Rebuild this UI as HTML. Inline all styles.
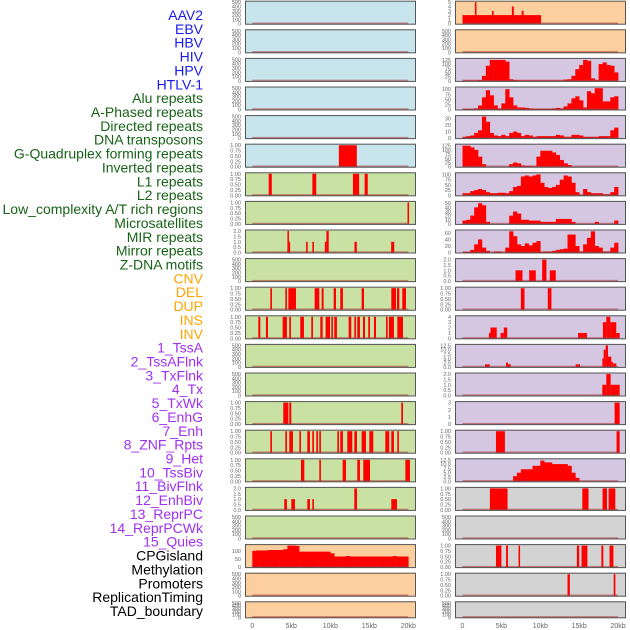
<!DOCTYPE html>
<html><head><meta charset="utf-8"><style>
html,body{margin:0;padding:0;background:#fff;}
svg{display:block;font-family:"Liberation Sans",sans-serif;}
</style></head><body>
<svg id="chart" width="630" height="630" viewBox="0 0 630 630"></svg>
<script>
// ---- labels ----
const trackLabels = ["AAV2","EBV","HBV","HIV","HPV","HTLV-1","Alu repeats","A-Phased repeats","Directed repeats","DNA transposons","G-Quadruplex forming repeats","Inverted repeats","L1 repeats","L2 repeats","Low_complexity A/T rich regions","Microsatellites","MIR repeats","Mirror repeats","Z-DNA motifs","CNV","DEL","DUP","INS","INV","1_TssA","2_TssAFlnk","3_TxFlnk","4_Tx","5_TxWk","6_EnhG","7_Enh","8_ZNF_Rpts","9_Het","10_TssBiv","11_BivFlnk","12_EnhBiv","13_ReprPC","14_ReprPCWk","15_Quies","CPGisland","Methylation","Promoters","ReplicationTiming","TAD_boundary"];
const labelGroups = ["v","v","v","v","v","v","g","g","g","g","g","g","g","g","g","g","g","g","g","o","o","o","o","o","p","p","p","p","p","p","p","p","p","p","p","p","p","p","p","k","k","k","k","k"];
const xTickValues = [0,5,10,15,20];
const xTickLabels = ["0","5kb","10kb","15kb","20kb"];

// ---- left column data (segments: [startKb,endKb,value]) ----
const gquadSegs = [[11.1,13.4,1]];
const invertedSegs = [[2.1,2.5,1],[7.7,8.2,1],[12.9,13.7,1],[14.4,14.8,1]];
const lowComplexSegs = [[19.9,20.1,1]];
const mirSegs = [[4.5,4.7,2],[4.7,4.85,1],[6.9,7.1,1],[7.7,7.9,1],[9.3,9.5,1],[9.5,9.8,2],[13.1,13.4,1],[17.8,18.2,1]];
const cnvLeftSegs = [[2.31,2.52,1],[4.23,4.44,1],[4.62,5.6,1],[7.99,8.59,1],[8.89,9.14,1],[10.43,10.73,1],[11.28,11.62,1],[14.02,14.32,1],[17.82,18.42,1],[18.55,18.85,1],[19.23,19.7,1]];
const delLeftSegs = [[0.77,1.03,1],[1.75,2.01,1],[3.89,4.44,1],[4.74,4.96,1],[6.15,6.62,1],[7.56,7.78,1],[8.72,9.02,1],[9.4,9.96,1],[10.13,10.34,1],[10.51,10.85,1],[12.35,12.69,1],[13.08,13.29,1],[13.46,13.8,1],[14.19,14.45,1],[14.87,15.09,1],[15.6,15.86,1],[17.14,17.35,1],[17.52,18.16,1],[18.59,19.32,1]];
const txwkSegs = [[3.97,4.62,1],[4.74,5.0,1],[19.1,19.32,1]];
const enhSegs = [[2.31,2.52,1],[4.23,4.44,1],[4.74,5.21,1],[6.03,6.24,1],[7.05,7.39,1],[7.69,7.9,1],[8.21,8.42,1],[8.59,8.8,1],[10.9,11.11,1],[11.28,11.62,1],[12.18,12.82,1],[13.08,13.42,1],[14.02,14.57,1],[15.0,15.51,1],[17.05,17.56,1],[17.82,18.16,1],[18.59,18.8,1]];
const znfSegs = [[6.24,6.67,1],[8.59,8.8,1],[11.58,12.01,1],[13.46,13.8,1],[14.23,15.09,1],[19.62,20.21,1]];
const hetSegs = [[4.1,4.44,1],[5.0,5.47,1],[7.05,7.39,1],[7.69,7.9,1],[17.82,18.55,1],[13.08,13.42,2]];
const methylationValues = [100,102,102,102,105,105,105,105,110,140,148,130,95,95,95,95,95,95,95,95,85,65,65,65,68,65,65,65,65,65,65,65,65,65,65,65,68,65,65,65];

// ---- right column data ----
const aav2Segs = [[0,10.1,2],[1.6,1.8,5],[3.8,4.0,3],[6.35,6.6,4],[7.6,7.85,3]];
const hivValues = [3,3,3,3,5,30,90,125,125,125,125,115,10,5,3,3,3,3,3,3,3,3,3,3,3,3,8,10,30,70,95,125,120,15,5,100,110,95,90,50];
const hpvValues = [2,2,2,5,20,60,95,70,20,5,30,100,60,20,10,10,8,5,3,3,3,3,3,5,8,5,15,30,55,65,45,10,90,80,105,105,40,40,60,65];
const aluValues = [2,3,4,8,12,33,25,8,4,3,5,3,8,10,8,3,5,4,2,3,3,3,3,3,5,4,2,2,5,5,4,2,2,2,2,3,3,3,12,16];
const aphasedValues = [125,125,115,100,60,15,0,0,0,0,0,0,15,25,20,8,5,5,3,60,95,95,95,85,70,40,20,10,0,0,0,0,0,0,0,0,0,0,0,0];
const directedValues = [10,10,20,25,30,25,15,10,10,12,12,10,20,40,45,90,95,90,95,100,60,40,35,40,50,75,95,90,60,15,2,30,15,10,10,10,5,5,15,40];
const dnaTransValues = [8,10,20,40,50,45,5,0,0,0,0,0,20,30,25,10,10,8,8,8,5,5,5,5,12,12,12,12,5,0,0,0,0,0,5,0,0,0,0,8];
const gquadRightValues = [2,2,8,25,40,15,5,0,3,3,0,15,65,50,25,20,28,22,30,35,2,3,3,5,8,10,12,55,55,20,3,25,45,65,20,15,3,3,15,30];
const l1Segs = [[6.82,7.71,1],[8.57,9.42,1],[10.24,10.79,2],[11.22,11.99,1]];
const l2Segs = [[7.5,7.97,1],[10.96,11.43,1]];
const lowCxRightSegs = [[3.4,3.6,1],[3.6,4.4,2],[4.9,5.3,1],[5.3,5.75,2],[14.85,16.0,1],[18.05,18.48,3],[18.48,19.0,4],[19.0,19.76,3],[19.76,20.2,1]];
const microSegs = [[2.9,3.5,1.5],[5.6,5.85,2.5],[5.85,6.2,1.5],[14.55,15.1,1.5],[17.97,18.14,5],[18.14,18.4,10],[18.4,18.7,12.5],[18.7,19.12,6],[19.12,19.33,3],[19.33,19.76,2]];
const mirRightSegs = [[17.97,18.48,1],[18.48,19.04,2],[19.04,20.2,1]];
const mirrorSegs = [[19.55,20.2,3]];
const zdnaSegs = [[4.3,5.45,1],[19.8,20.2,1]];
const cnvRightValues = [0,0,0,0,0,0,0,0,0,0,0,0,0,3,5,7,7,7,9,9,12,11,11,10,10,10,10,9,5,2,0,0,0,0,0,0,0,0,0,0];
const delRightSegs = [[3.52,5.79,1],[15.4,16.2,1],[18.0,18.57,1],[18.78,19.64,1]];
const tssaFlnkSegs = [[4.3,5.0,1],[5.6,5.84,1],[7.2,7.4,1],[14.7,15.0,1],[15.3,16.05,1],[17.85,18.1,1],[18.9,19.4,1]];
const txFlnkSegs = [[13.5,13.8,1],[19.43,19.65,1]];

// ---- track layout config ----
const C = {blue:"#c8e4ec",green:"#c9e2a4",orange:"#fecf9e",purple:"#d5c6e2",gray:"#d3d3d3"};
const T500=[0,100,200,300,400,500], T1=[0,0.25,0.5,0.75,1], T2=[0,0.5,1,1.5,2];
const tracks = [
 {c:0,r:0,bg:C.blue,max:500,ticks:T500},{c:0,r:1,bg:C.blue,max:500,ticks:T500},{c:0,r:2,bg:C.blue,max:500,ticks:T500},
 {c:0,r:3,bg:C.blue,max:500,ticks:T500},{c:0,r:4,bg:C.blue,max:500,ticks:T500},
 {c:0,r:5,bg:C.blue,max:1,ticks:T1,dec:2,segs:gquadSegs},
 {c:0,r:6,bg:C.green,max:1,ticks:T1,dec:2,segs:invertedSegs},
 {c:0,r:7,bg:C.green,max:1,ticks:T1,dec:2,segs:lowComplexSegs},
 {c:0,r:8,bg:C.green,max:2,ticks:T2,dec:1,segs:mirSegs},
 {c:0,r:9,bg:C.green,max:500,ticks:T500},
 {c:0,r:10,bg:C.green,max:1,ticks:T1,dec:2,segs:cnvLeftSegs},
 {c:0,r:11,bg:C.green,max:1,ticks:T1,dec:2,segs:delLeftSegs},
 {c:0,r:12,bg:C.green,max:500,ticks:T500},{c:0,r:13,bg:C.green,max:500,ticks:T500},
 {c:0,r:14,bg:C.green,max:1,ticks:T1,dec:2,segs:txwkSegs},
 {c:0,r:15,bg:C.green,max:1,ticks:T1,dec:2,segs:enhSegs},
 {c:0,r:16,bg:C.green,max:1,ticks:T1,dec:2,segs:znfSegs},
 {c:0,r:17,bg:C.green,max:2,ticks:T2,dec:1,segs:hetSegs},
 {c:0,r:18,bg:C.green,max:500,ticks:T500},
 {c:0,r:19,bg:C.orange,max:132,ticks:[0,50,100],bins:methylationValues},
 {c:0,r:20,bg:C.orange,max:500,ticks:T500},{c:0,r:21,bg:C.orange,max:500,ticks:T500,short:true},
 {c:1,r:0,bg:C.orange,max:5,ticks:[0,1,2,3,4,5],segs:aav2Segs},
 {c:1,r:1,bg:C.orange,max:500,ticks:T500},
 {c:1,r:2,bg:C.purple,max:128,ticks:[0,25,50,75,100,125],bins:hivValues},
 {c:1,r:3,bg:C.purple,max:106,ticks:[0,25,50,75,100],bins:hpvValues},
 {c:1,r:4,bg:C.purple,max:33,ticks:[0,10,20,30],bins:aluValues},
 {c:1,r:5,bg:C.purple,max:128,ticks:[0,25,50,75,100,125],bins:aphasedValues},
 {c:1,r:6,bg:C.purple,max:103,ticks:[0,25,50,75,100],bins:directedValues},
 {c:1,r:7,bg:C.purple,max:52,ticks:[0,10,20,30,40,50],bins:dnaTransValues},
 {c:1,r:8,bg:C.purple,max:66,ticks:[0,20,40,60],bins:gquadRightValues},
 {c:1,r:9,bg:C.purple,max:2,ticks:T2,dec:1,segs:l1Segs},
 {c:1,r:10,bg:C.purple,max:1,ticks:T1,dec:2,segs:l2Segs},
 {c:1,r:11,bg:C.purple,max:4,ticks:[0,1,2,3,4],segs:lowCxRightSegs},
 {c:1,r:12,bg:C.purple,max:12.5,ticks:[0,2.5,5,7.5,10,12.5],dec:1,segs:microSegs},
 {c:1,r:13,bg:C.purple,max:2,ticks:T2,dec:1,segs:mirRightSegs},
 {c:1,r:14,bg:C.purple,max:3,ticks:[0,1,2,3],segs:mirrorSegs},
 {c:1,r:15,bg:C.purple,max:1,ticks:T1,dec:2,segs:zdnaSegs},
 {c:1,r:16,bg:C.purple,max:12.5,ticks:[0,2.5,5,7.5,10,12.5],dec:1,bins:cnvRightValues},
 {c:1,r:17,bg:C.gray,max:1,ticks:T1,dec:2,segs:delRightSegs},
 {c:1,r:18,bg:C.gray,max:500,ticks:T500},
 {c:1,r:19,bg:C.gray,max:1,ticks:T1,dec:2,segs:tssaFlnkSegs},
 {c:1,r:20,bg:C.gray,max:1,ticks:T1,dec:2,segs:txFlnkSegs},
 {c:1,r:21,bg:C.gray,max:500,ticks:T500,short:true}
];

const svg = document.getElementById('chart');
const NS = "http://www.w3.org/2000/svg";
function mk(tag, attrs, parent){const e=document.createElementNS(NS,tag);for(const k in attrs)e.setAttribute(k,attrs[k]);(parent||svg).appendChild(e);return e;}
const colX = [{x0:245,x1:416,zero:252.3,px:7.8},{x0:455,x1:626,zero:462.5,px:7.78}];
function xScale(c,kb){return colX[c].zero+kb*colX[c].px;}

tracks.forEach((t,i)=>{
  const cx=colX[t.c];
  const top=0.7+28.6*t.r, h=t.short?17:24, bot=top+h;
  const yS=v=>bot-1-(v/t.max)*(h-2.5);
  const g=mk('g',{});
  
  
  const bg=mk('rect',{x:cx.x0,y:top,width:cx.x1-cx.x0,height:h,fill:t.bg},g);
  
  
  if(t.segs){t.segs.forEach(s=>{
    const x0=xScale(t.c,s[0]),x1=xScale(t.c,s[1]);
    const r=mk('rect',{x:x0,y:yS(s[2]),width:Math.max(1,x1-x0),height:bot-1-yS(s[2]),fill:"#ff0000"},g);
    
    
  });}
  if(t.bins){t.bins.forEach((v,j)=>{
    if(v<=0)return;
    const vv=Math.min(v,t.max);
    const x0=xScale(t.c,j*0.5),x1=xScale(t.c,j*0.5+0.5);
    const r=mk('rect',{x:x0,y:yS(vv),width:x1-x0+0.3,height:bot-1-yS(vv),fill:"#ff0000"},g);
    
    
  });}
  const bl=mk('rect',{x:xScale(t.c,0),y:bot-2.2,width:xScale(t.c,20)-xScale(t.c,0),height:1.6,fill:"#b03030",opacity:0.55},g);
  
  
  const br=mk('rect',{x:cx.x0+0.5,y:top+0.5,width:cx.x1-cx.x0-1,height:h-1,fill:"none",stroke:"#555",'stroke-width':1},g);
  
  
  t.ticks.forEach(v=>{
    const tx=mk('text',{x:cx.x0-4,y:yS(v)+2,'text-anchor':'end','font-size':'5.5px',fill:'#666'},g);
    tx.textContent=t.dec?v.toFixed(t.dec):String(v);
    
    
  });
});

const labelColors={v:"#1a1aee",g:"#176317",o:"#ffa500",p:"#a030f0",k:"#000"};
trackLabels.forEach((l,i)=>{
  const tx=mk('text',{x:203,y:15+13.86*i+5,'text-anchor':'end','font-size':'14px',fill:labelColors[labelGroups[i]]});
  tx.textContent=l;
  
  
});
[0,1].forEach(c=>{
  xTickValues.forEach((v,j)=>{
    const tx=mk('text',{x:xScale(c,v),y:628,'text-anchor':'middle','font-size':'7px',fill:'#666'});
    tx.textContent=xTickLabels[j];
    
    
  });
});
</script>
</body></html>
